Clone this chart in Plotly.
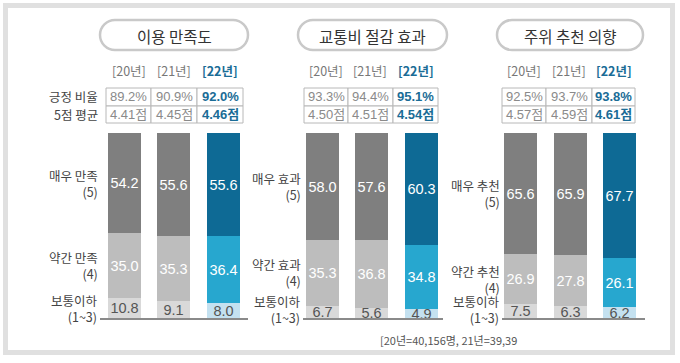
import plotly.graph_objects as go

# ---------------- data ----------------
categories = ["이용 만족도", "교통비 절감 효과", "주위 추천 의향"]
year_labels = ["[20년]", "[21년]", "[22년]"]
positive_ratio = [[89.2, 90.9, 92.0], [93.3, 94.4, 95.1], [92.5, 93.7, 93.8]]
avg_score = [[4.41, 4.45, 4.46], [4.50, 4.51, 4.54], [4.57, 4.59, 4.61]]
top_share = [[54.2, 55.6, 55.6], [58.0, 57.6, 60.3], [65.6, 65.9, 67.7]]
mid_share = [[35.0, 35.3, 36.4], [35.3, 36.8, 34.8], [26.9, 27.8, 26.1]]
low_share = [[10.8, 9.1, 8.0], [6.7, 5.6, 4.9], [7.5, 6.3, 6.2]]
top_labels = ["매우 만족", "매우 효과", "매우 추천"]
mid_labels = ["약간 만족", "약간 효과", "약간 추천"]
low_label = "보통이하"
top_code, mid_code, low_code = "(5)", "(4)", "(1~3)"
row_labels = ["긍정 비율", "5점 평균"]
footnote = "[20년=40,156명, 21년=39,39"

# ---------------- styling ----------------
W, H = 680, 363
FONT = "Liberation Sans, Noto Sans CJK KR, sans-serif"
KFONT = "Noto Sans CJK KR, sans-serif"
GRAY_TOP, GRAY_MID, GRAY_LOW = "#7f7f7f", "#bdbdbd", "#d9d9d9"
BLUE_TOP, BLUE_MID, BLUE_LOW = "#0e6a95", "#27a7cf", "#c4e1f0"
BLUE_TXT = "#1a6c96"


def px(x):
    return x / W


def py(y):
    return 1 - y / H


# panel geometry (pixels)
axis_x = [(100, 248), (303, 443), (502, 645)]
bar_c0 = [124, 322, 520.5]
spacing = 49.6
bar_w = 33
plot_top, plot_bot = 133, 318
pill = [(100, 248), (298, 447), (497, 643)]
pill_y = (20, 50)
table_x = [(106, 151, 197, 243), (304, 348, 393, 438), (502, 546, 592, 635)]
table_y = (88, 106, 123)
year_y = 71

fig = go.Figure()
layout_axes = {}
annotations = []
shapes = []

for p in range(3):
    xa = "x" if p == 0 else f"x{p+1}"
    ya = "y" if p == 0 else f"y{p+1}"
    xs = [0, 1, 2]
    segs = [
        (low_share[p], [GRAY_LOW, GRAY_LOW, BLUE_LOW], "#555555"),
        (mid_share[p], [GRAY_MID, GRAY_MID, BLUE_MID], "white"),
        (top_share[p], [GRAY_TOP, GRAY_TOP, BLUE_TOP], "white"),
    ]
    for vals, cols, tcol in segs:
        fig.add_trace(go.Bar(
            x=xs, y=vals, xaxis=xa, yaxis=ya,
            width=[bar_w / spacing] * 3,
            marker=dict(color=cols, line=dict(width=0)),
            text=[f"{v:.1f}" for v in vals],
            textposition="inside", insidetextanchor="middle", textangle=0,
            constraintext="none", cliponaxis=False,
            textfont=dict(color=tcol, size=14.5, family=FONT),
            showlegend=False, hoverinfo="skip",
        ))
    x0, x1 = axis_x[p]
    left = -(bar_c0[p] - x0) / spacing
    right = left + (x1 - x0) / spacing
    key = "" if p == 0 else str(p + 1)
    layout_axes["xaxis" + key] = dict(
        domain=[px(x0), px(x1)], range=[left, right], anchor=ya, autorange=False,
        showline=True, linecolor="#8a8a8a", linewidth=1.5,
        showticklabels=False, showgrid=False, zeroline=False, ticks="",
    )
    layout_axes["yaxis" + key] = dict(
        domain=[py(plot_bot), py(plot_top)], range=[0, 100], anchor=xa,
        visible=False,
    )

    # segment labels on the left (aligned with first bar's segments)
    lx = px(x0)
    low, mid, top = low_share[p][0], mid_share[p][0], top_share[p][0]
    for text, ymid in [
        (f"{top_labels[p]}<br>{top_code}", low + mid + top / 2),
        (f"{mid_labels[p]}<br>{mid_code}", low + mid / 2),
        (f"{low_label}<br>{low_code}", max(low / 2, 4.5)),
    ]:
        annotations.append(dict(
            x=lx, xref="paper", y=ymid, yref=ya, text=text,
            xanchor="right", yanchor="middle", align="right",
            showarrow=False, font=dict(size=12.5, color="#444444", family=KFONT),
        ))

    # title pill
    a, b = pill[p]
    t, bt = pill_y
    r = (bt - t) / 2
    k = 0.5523 * r
    ym = (t + bt) / 2
    pts = [
        ("M", [(a + r, t)]),
        ("L", [(b - r, t)]),
        ("C", [(b - r + k, t), (b, ym - k), (b, ym)]),
        ("C", [(b, ym + k), (b - r + k, bt), (b - r, bt)]),
        ("L", [(a + r, bt)]),
        ("C", [(a + r - k, bt), (a, ym + k), (a, ym)]),
        ("C", [(a, ym - k), (a + r - k, t), (a + r, t)]),
    ]
    path = " ".join(cmd + " " + " ".join(f"{px(x):.5f},{py(y):.5f}" for x, y in ps) for cmd, ps in pts) + " Z"
    shapes.append(dict(type="path", path=path, xref="paper", yref="paper",
                       line=dict(color="#c9c9c9", width=2.5), fillcolor="white", layer="below"))
    annotations.append(dict(
        x=px((a + b) / 2), y=py(ym + 0.5), xref="paper", yref="paper",
        text=categories[p], showarrow=False, xanchor="center", yanchor="middle",
        font=dict(size=15.5, color="#333333", family=KFONT),
    ))

    # year labels and table
    tx = table_x[p]
    for i in range(3):
        cx = (tx[i] + tx[i + 1]) / 2
        is_last = i == 2
        annotations.append(dict(
            x=px(cx), y=py(year_y), xref="paper", yref="paper",
            text=f"<b>{year_labels[i]}</b>" if is_last else year_labels[i],
            showarrow=False, xanchor="center", yanchor="middle",
            font=dict(size=12.5, color=BLUE_TXT if is_last else "#777777", family=KFONT),
        ))
        for row, txt in enumerate([f"{positive_ratio[p][i]:.1f}%", f"{avg_score[p][i]:.2f}점"]):
            y0, y1 = table_y[row], table_y[row + 1]
            shapes.append(dict(type="rect", xref="paper", yref="paper",
                               x0=px(tx[i]), x1=px(tx[i + 1]), y0=py(y1), y1=py(y0),
                               line=dict(color="#b8b8b8", width=1), fillcolor="white"))
            annotations.append(dict(
                x=px(cx), y=py((y0 + y1) / 2), xref="paper", yref="paper",
                text=f"<b>{txt}</b>" if is_last else txt,
                showarrow=False, xanchor="center", yanchor="middle",
                font=dict(size=13, color=BLUE_TXT if is_last else "#8a8a8a", family=FONT),
            ))

# row labels (first panel only)
for row, lab in enumerate(row_labels):
    y0, y1 = table_y[row], table_y[row + 1]
    annotations.append(dict(
        x=px(100), y=py((y0 + y1) / 2), xref="paper", yref="paper",
        text=lab, showarrow=False, xanchor="right", yanchor="middle",
        font=dict(size=12.5, color="#444444", family=KFONT),
    ))

# footnote
annotations.append(dict(
    x=px(378), y=py(340), xref="paper", yref="paper", text=footnote,
    showarrow=False, xanchor="left", yanchor="middle",
    font=dict(size=11, color="#555555", family=KFONT),
))

# outer frame
shapes.append(dict(type="rect", xref="paper", yref="paper",
                   x0=px(5.5), x1=px(672.5), y0=py(352.5), y1=py(5.5),
                   line=dict(color="#e0e0e0", width=5), layer="below"))

fig.update_layout(
    width=W, height=H, margin=dict(l=0, r=0, t=0, b=0),
    paper_bgcolor="white", plot_bgcolor="rgba(0,0,0,0)",
    barmode="stack", bargap=0, showlegend=False,
    annotations=annotations, shapes=shapes,
    **layout_axes,
)

fig.write_html("out.html", config={"displayModeBar": False},
               post_script="document.body.style.margin='0px';document.body.style.overflow='hidden';")
